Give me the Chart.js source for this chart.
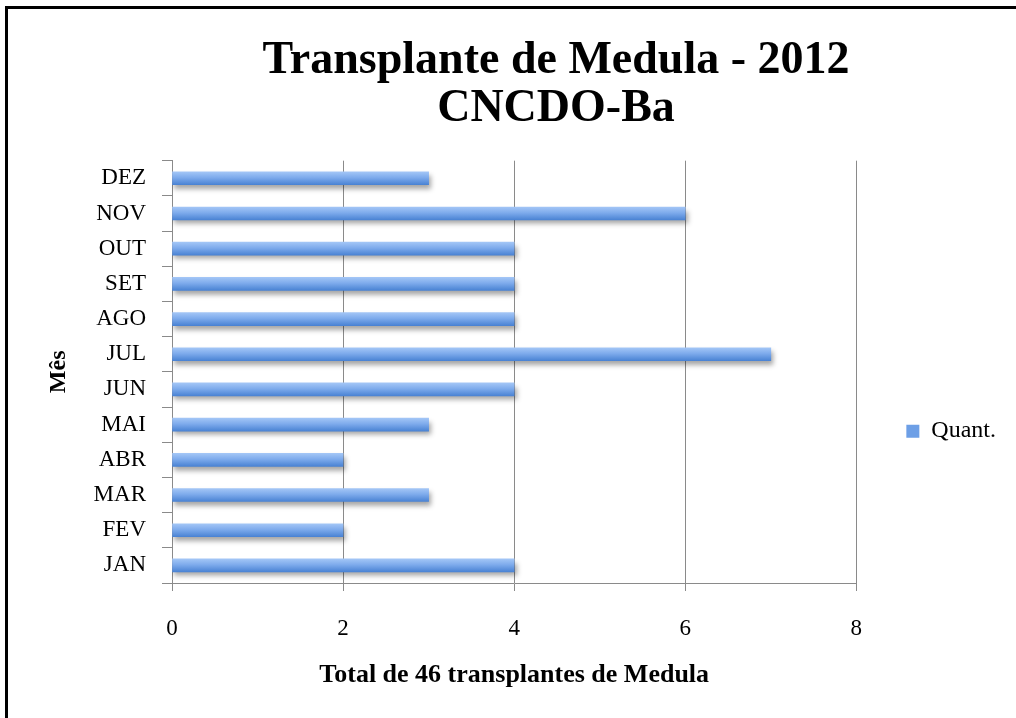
<!DOCTYPE html>
<html>
<head>
<meta charset="utf-8">
<script src="https://cdn.jsdelivr.net/npm/chart.js@4/dist/chart.umd.min.js"></script>
<style>
  body { margin: 0; background: #fff; }
  #wrap { position: relative; width: 1016px; height: 718px; overflow: hidden; }
  #frame { position: absolute; left: 5px; top: 6px; width: 1100px; height: 800px;
           border-left: 3px solid #000; border-top: 3px solid #000; }
  canvas { position: absolute; left: 0; top: 0; }
</style>
</head>
<body>
<div id="wrap">
  <div id="frame"></div>
  <canvas id="medula" width="1016" height="718"></canvas>
</div>
<script>
const meses = ["JAN", "FEV", "MAR", "ABR", "MAI", "JUN", "JUL", "AGO", "SET", "OUT", "NOV", "DEZ"];
const quant = [4, 2, 3, 2, 3, 4, 7, 4, 4, 4, 6, 3];
const xTicks = [0, 2, 4, 6, 8];

const serif = "'Liberation Serif', 'DejaVu Serif', serif";
Chart.defaults.color = '#000';
Chart.defaults.font.family = serif;

// bar fill: light blue on top, darker below
function barFill(c) {
    if (c.type !== 'data' || !c.chart.scales.y) return '#6d9fe6';
    const y = c.chart.scales.y.getPixelForValue(c.dataIndex);
    if (!isFinite(y)) return '#6d9fe6';
    const g = c.chart.ctx.createLinearGradient(0, y - 7, 0, y + 7);
    g.addColorStop(0, '#a6c8f7');
    g.addColorStop(0.45, '#7eabec');
    g.addColorStop(1, '#4680d2');
    return g;
}

const shadow = {
    id: 'shadow',
    beforeDatasetsDraw(chart) {
        const c = chart.ctx;
        c.save();
        c.shadowColor = 'rgba(0,0,0,0.35)';
        c.shadowBlur = 5;
        c.shadowOffsetX = 2;
        c.shadowOffsetY = 4;
    },
    afterDatasetsDraw(chart) {
        chart.ctx.restore();
    }
};

// the title sits a bit right of the canvas centre
const titleShift = {
    id: 'titleShift',
    afterLayout(chart) {
        const t = chart.titleBlock;
        const dx = 556 - (t.left + t.right) / 2;
        t.left += dx;
        t.right += dx;
    }
};

const medula_chart = new Chart(
    document.getElementById("medula"),
    {
        type: 'bar',
        data: {
            labels: meses,
            datasets: [{
                label: "Quant.",
                data: quant,
                backgroundColor: barFill,
                borderWidth: 0,
                barThickness: 13
            }]
        },
        options: {
            responsive: false,
            animation: false,
            indexAxis: 'y',
            layout: { padding: { left: 0, right: 10, top: 0, bottom: 0 } },
            plugins: {
                title: {
                    display: true,
                    text: ["Transplante de Medula - 2012", "CNCDO-Ba"],
                    font: { size: 46, weight: 'bold', lineHeight: 1.04 },
                    padding: { top: 37, bottom: 28 },
                    color: '#000'
                },
                legend: {
                    position: 'right',
                    title: { display: true, text: '', padding: { top: 130, bottom: 0 } },
                    labels: {
                        boxWidth: 13,
                        boxHeight: 13,
                        font: { size: 24 },
                        padding: 50,
                        generateLabels(chart) {
                            const items = Chart.defaults.plugins.legend.labels.generateLabels(chart);
                            items.forEach(it => { it.fillStyle = '#6d9fe6'; it.lineWidth = 0; });
                            return items;
                        }
                    }
                },
                tooltip: { enabled: false }
            },
            scales: {
                x: {
                    min: 0,
                    max: 8,
                    afterBuildTicks(axis) {
                        axis.ticks = xTicks.map(v => ({ value: v }));
                    },
                    afterFit(axis) { axis.height = 135; },
                    grid: { color: '#8a8a8a', tickLength: 8, lineWidth: 1 },
                    border: { color: '#8a8a8a' },
                    ticks: { font: { size: 23 }, padding: 24 },
                    title: {
                        display: true,
                        text: "Total de 46 transplantes de Medula",
                        font: { size: 26, weight: 'bold' },
                        padding: { top: 0, bottom: 27 }
                    }
                },
                y: {
                    reverse: true,
                    afterFit(axis) { axis.width = 172; },
                    grid: { drawOnChartArea: false, offset: true, tickLength: 10, color: '#8a8a8a' },
                    border: { color: '#8a8a8a' },
                    ticks: { font: { size: 23 }, padding: 16 },
                    title: {
                        display: true,
                        text: "Mês",
                        font: { size: 24, weight: 'bold' },
                        padding: { top: 44, bottom: 0 }
                    }
                }
            }
        },
        plugins: [shadow, titleShift]
    }
);
</script>
</body>
</html>
